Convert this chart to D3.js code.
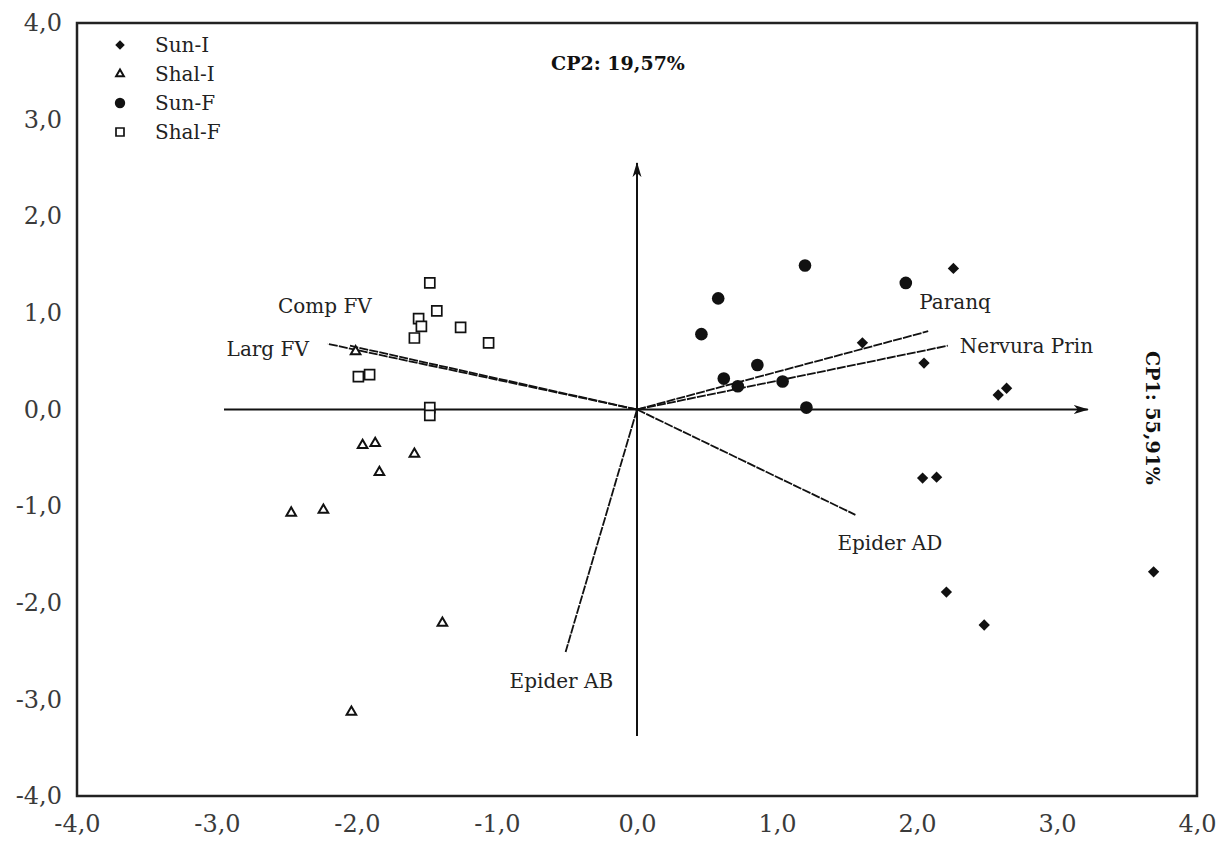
<!DOCTYPE html>
<html>
<head>
<meta charset="utf-8">
<script src="https://cdn.jsdelivr.net/npm/d3@7"></script>
<style>
  body { margin: 0; background: #fff; }
  svg { display: block; }
  text { font-family: "DejaVu Serif", "Liberation Serif", serif; }
</style>
</head>
<body>
<div id="chart"></div>
<script>
/* DATA */
const ticks = [-4, -3, -2, -1, 0, 1, 2, 3, 4];

const groups = ["Sun-I", "Shal-I", "Sun-F", "Shal-F"];

// PCA scores
const sunI_x = [1.61, 2.26, 2.05, 2.58, 2.64, 2.04, 2.14, 2.21, 2.48, 3.69];
const sunI_y = [0.69, 1.46, 0.48, 0.15, 0.22, -0.71, -0.70, -1.89, -2.23, -1.68];

const shalI_x = [-2.01, -1.96, -1.87, -1.59, -1.84, -2.47, -2.24, -1.39, -2.04];
const shalI_y = [0.60, -0.37, -0.35, -0.46, -0.65, -1.07, -1.04, -2.21, -3.13];

const sunF_x = [1.20, 0.58, 0.46, 1.92, 0.86, 0.62, 0.72, 1.04, 1.21];
const sunF_y = [1.49, 1.15, 0.78, 1.31, 0.46, 0.32, 0.24, 0.29, 0.02];

const shalF_x = [-1.48, -1.43, -1.56, -1.54, -1.26, -1.59, -1.06, -1.99, -1.91, -1.48, -1.48];
const shalF_y = [1.31, 1.02, 0.94, 0.86, 0.85, 0.74, 0.69, 0.34, 0.36, 0.02, -0.06];

// loading vectors
const loadNames = ["Paranq", "Nervura Prin", "Epider AD", "Epider AB", "Comp FV", "Larg FV"];
const loadX = [2.08, 2.22, 1.56, -0.51, -2.05, -2.21];
const loadY = [0.81, 0.66, -1.09, -2.51, 0.66, 0.68];

// principal axes (arrow lines)
const axisX = [-2.95, 3.22];
const axisY = [-3.38, 2.55];

const cp1Label = "CP1: 55,91%";
const cp2Label = "CP2: 19,57%";

/* LAYOUT */
const width = 1229, height = 841;
const margin = { top: 23, right: 32, bottom: 45, left: 77 };

const svg = d3.select("#chart").append("svg")
  .attr("width", width)
  .attr("height", height);

const xScale = d3.scaleLinear()
  .domain([-4, 4])
  .range([margin.left, width - margin.right]);

const yScale = d3.scaleLinear()
  .domain([-4, 4])
  .range([height - margin.bottom, margin.top]);

const fmt = d => d.toFixed(1).replace(".", ",");

// arrow marker
svg.append("defs").append("marker")
  .attr("id", "arrow")
  .attr("viewBox", "0 -6 16 12")
  .attr("refX", 14)
  .attr("refY", 0)
  .attr("markerWidth", 16)
  .attr("markerHeight", 12)
  .attr("markerUnits", "userSpaceOnUse")
  .attr("orient", "auto")
  .append("path")
  .attr("d", "M0,-4.5L15,0L0,4.5L4,0Z")
  .attr("fill", "#111");

/* AXES */
const xAxis = d3.axisBottom(xScale).tickValues(ticks).tickFormat(fmt).tickSize(0).tickPadding(19);
const yAxis = d3.axisLeft(yScale).tickValues(ticks).tickFormat(fmt).tickSize(0).tickPadding(15);

svg.append("g")
  .attr("transform", `translate(0, ${height - margin.bottom})`)
  .call(xAxis)
  .call(g => g.select(".domain").remove())
  .selectAll("text")
  .attr("font-size", 24)
  .attr("font-family", "DejaVu Serif")
  .attr("fill", "#3a3a3a");

svg.append("g")
  .attr("transform", `translate(${margin.left}, 0)`)
  .call(yAxis)
  .call(g => g.select(".domain").remove())
  .selectAll("text")
  .attr("font-size", 24)
  .attr("font-family", "DejaVu Serif")
  .attr("fill", "#3a3a3a");

// frame
svg.append("rect")
  .attr("x", xScale(-4))
  .attr("y", yScale(4))
  .attr("width", xScale(4) - xScale(-4))
  .attr("height", yScale(-4) - yScale(4))
  .attr("fill", "none")
  .attr("stroke", "#222")
  .attr("stroke-width", 2.5);

/* PRINCIPAL AXES */
svg.append("line")
  .attr("x1", xScale(axisX[0])).attr("y1", yScale(0))
  .attr("x2", xScale(axisX[1])).attr("y2", yScale(0))
  .attr("stroke", "#111").attr("stroke-width", 2)
  .attr("marker-end", "url(#arrow)");

svg.append("line")
  .attr("x1", xScale(0)).attr("y1", yScale(axisY[0]))
  .attr("x2", xScale(0)).attr("y2", yScale(axisY[1]))
  .attr("stroke", "#111").attr("stroke-width", 2)
  .attr("marker-end", "url(#arrow)");

/* LOADING VECTORS */
const loadings = loadNames.map((name, i) => ({ name, x: loadX[i], y: loadY[i] }));
// label offsets from the vector tip (px)
const labelDx = [-9, 12, -18, -56, -72, -101];
const labelDy = [-22, 7, 35, 36, -33, 12];

svg.selectAll("line.load")
  .data(loadings)
  .join("line")
  .attr("class", "load")
  .attr("x1", xScale(0)).attr("y1", yScale(0))
  .attr("x2", d => xScale(d.x)).attr("y2", d => yScale(d.y))
  .attr("stroke", "#111")
  .attr("stroke-width", 1.8)
  .attr("stroke-dasharray", "9,1.2");

svg.selectAll("text.load")
  .data(loadings)
  .join("text")
  .attr("class", "load")
  .attr("x", (d, i) => xScale(d.x) + labelDx[i])
  .attr("y", (d, i) => yScale(d.y) + labelDy[i])
  .attr("font-size", 20)
  .attr("fill", "#222")
  .text(d => d.name);

/* POINTS */
const diamond = d3.symbol().type(d3.symbolSquare).size(64);
const triangle = d3.symbol().type(d3.symbolTriangle).size(40);
const circle = d3.symbol().type(d3.symbolCircle).size(125);
const square = d3.symbol().type(d3.symbolSquare).size(100);

const styles = {
  "Sun-I": { path: diamond(), fill: "#111", stroke: "none", rot: 45, sw: 0 },
  "Shal-I": { path: triangle(), fill: "#fff", stroke: "#111", rot: 0, sw: 2 },
  "Sun-F": { path: circle(), fill: "#111", stroke: "none", rot: 0, sw: 0 },
  "Shal-F": { path: square(), fill: "#fff", stroke: "#111", rot: 0, sw: 1.7 }
};

const series = [
  { key: "Sun-I", xs: sunI_x, ys: sunI_y },
  { key: "Shal-I", xs: shalI_x, ys: shalI_y },
  { key: "Sun-F", xs: sunF_x, ys: sunF_y },
  { key: "Shal-F", xs: shalF_x, ys: shalF_y }
];

series.forEach(s => {
  const st = styles[s.key];
  const pts = s.xs.map((x, i) => ({ x, y: s.ys[i] }));
  svg.append("g").selectAll("path")
    .data(pts)
    .join("path")
    .attr("d", st.path)
    .attr("transform", d => `translate(${xScale(d.x)}, ${yScale(d.y)}) rotate(${st.rot})`)
    .attr("fill", st.fill)
    .attr("stroke", st.stroke)
    .attr("stroke-width", st.sw);
});

/* LEGEND */
const legend = svg.append("g").attr("transform", "translate(120, 45)");
const legendSymbols = {
  "Sun-I": d3.symbol().type(d3.symbolSquare).size(45)(),
  "Shal-I": d3.symbol().type(d3.symbolTriangle).size(26)(),
  "Sun-F": d3.symbol().type(d3.symbolCircle).size(85)(),
  "Shal-F": d3.symbol().type(d3.symbolSquare).size(64)()
};
const item = legend.selectAll("g")
  .data(groups)
  .join("g")
  .attr("transform", (d, i) => `translate(0, ${i * 29})`);

item.append("path")
  .attr("d", d => legendSymbols[d])
  .attr("transform", d => `rotate(${styles[d].rot})`)
  .attr("fill", d => styles[d].fill)
  .attr("stroke", d => styles[d].stroke)
  .attr("stroke-width", d => styles[d].sw);

item.append("text")
  .attr("x", 35)
  .attr("y", 7)
  .attr("font-size", 20)
  .attr("fill", "#222")
  .text(d => d);

/* COMPONENT LABELS */
svg.append("text")
  .attr("x", 618)
  .attr("y", 70)
  .attr("text-anchor", "middle")
  .attr("font-size", 19)
  .attr("font-weight", "bold")
  .attr("fill", "#111")
  .text(cp2Label);

svg.append("text")
  .attr("transform", "translate(1146, 418) rotate(90)")
  .attr("text-anchor", "middle")
  .attr("font-size", 19)
  .attr("font-weight", "bold")
  .attr("fill", "#111")
  .text(cp1Label);
</script>
</body>
</html>
